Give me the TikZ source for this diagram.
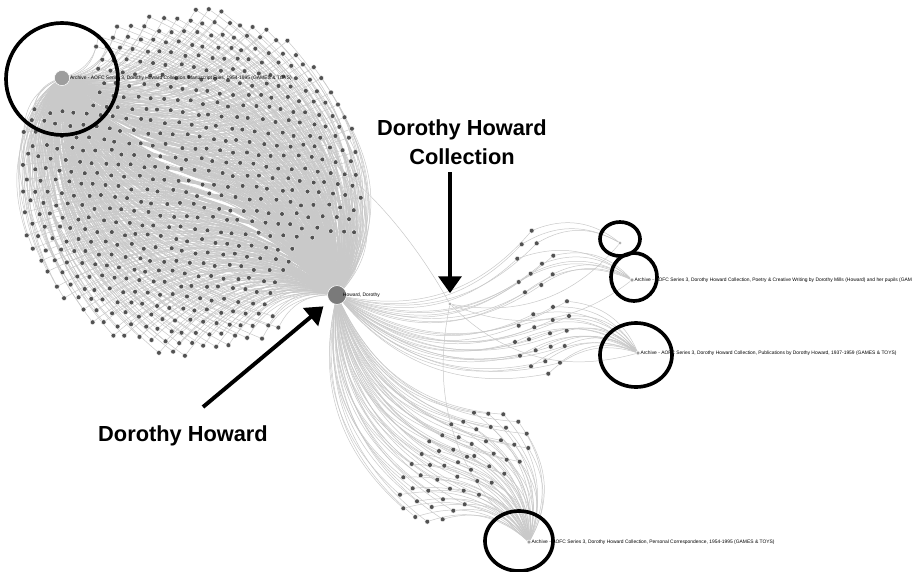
\documentclass[tikz,border=0pt]{standalone}
\usepackage{fontspec}
\setmainfont{Liberation Sans}
\usetikzlibrary{arrows.meta}
\pgfdeclarelayer{bg}
\pgfsetlayers{bg,main}

\tikzset{
  doc/.style={circle, fill=black!68, draw=white, line width=0.25pt, inner sep=0pt, minimum size=0.12cm},
  hub/.style={circle, fill=black!38, draw=white, line width=0.4pt, inner sep=0pt, minimum size=0.1cm},
  link/.style={draw=black!21, line width=0.35pt, bend left=30},
  ring/.style={draw=black, line width=2.6pt},
  callout/.style={draw=black, line width=2.8pt, -{Triangle[width=0.57cm,length=0.42cm]}},
  tiny/.style={font=\fontsize{3.5}{4}\selectfont, inner sep=0pt, anchor=west},
  big/.style={font=\fontsize{15.5}{20.6}\selectfont\bfseries, align=center},
}

\newcommand\rightdocs{531.7/230.7/toy, 521.7/244.3/toy, 536.7/243.3/toy,
  553.3/255.7/poe, 517.3/258.7/poe, 542/263.7/poe, 530.7/273.7/poe, 552.7/274.3/poe,
  518.7/282/poe, 541.3/285/poe, 525/292.3/poe,
  567/301.3/pub, 553/307/pub, 569/316/pub, 533.3/314.3/pub, 552.7/320/pub, 518.7/325.7/pub,
  534.3/327.3/pub, 566.7/330.7/pub, 550/333.3/pub, 529/339.3/pub, 515/342/pub, 550.7/346.7/pub,
  564.7/346/pub, 535.7/350.3/pub, 520/355.7/pub, 545.3/361.3/pub, 560/362.7/pub, 531/366.3/pub,
  548.3/373.7/pub}
\newcommand\lowdocs{474/412.7, 488.3/413.7, 503.3/414.3, 518.3/421.7, 463.3/421.7,
  451.3/424.3, 476.3/429.3, 490.7/427, 506/427.7, 526.7/433.7, 442.3/435.3, 458.7/437.3,
  471.7/444, 486/441.3, 501/440.3, 514.3/444.7, 528.3/448, 429.3/441.3, 439/451, 453.3/449.7,
  421.7/454, 467/456.7, 474.3/456, 493.7/453.7, 506.7/459.7, 519.7/461.7, 411.7/464, 430/465,
  444.3/465.7, 458/462.3, 471/469.7, 489.3/466.3, 504.3/473.7, 491.7/482.7, 403.3/477.3,
  420.7/475.3, 437.3/479.7, 457.3/476.7, 477.3/481, 412.7/488.3, 428.3/490.7, 450/488.7,
  463.7/490.7, 479/494.7, 400/494.7, 417/501.3, 443/499.3, 464.7/504.3, 403.3/508.3,
  431.7/507, 453.3/510.7, 415.3/517, 427.3/521.7, 442.7/519.3}

\begin{document}
\begin{tikzpicture}[x=0.025cm, y=-0.025cm]
  \useasboundingbox (0,0) rectangle (917,572);

  \node[hub, minimum size=0.38cm] (man) at (62,78) {};
  \node[hub, minimum size=0.47cm, fill=black!52] (how) at (337,295) {};
  \node[hub, minimum size=0.09cm] (coll) at (450,304) {};
  \node[hub, minimum size=0.09cm] (toy) at (620,243) {};
  \node[hub] (poe) at (632,280) {};
  \node[hub] (pub) at (638,353) {};
  \node[hub] (cor) at (529,542) {};

  % manuscript files
  \foreach \i in {0,...,40}{
    \foreach \j in {0,...,32}{
      \pgfmathsetmacro\px{190+13*(\i-20)-5.5*(\j-16)}
      \pgfmathsetmacro\py{182+1.2*(\i-20)+11*(\j-16)}
      \pgfmathtruncatemacro\ok{(veclen(\px-190,\py-182)<173) && (veclen(\px-337,\py-295)>60) && (veclen(\px-62,\py-78)>34)}
      \ifnum\ok=1
        \node[doc] (m\i-\j) at ({\px+2*rand},{\py+2*rand}) {};
      \fi
    }
  }
  \foreach \x/\y/\h [count=\k] in \rightdocs{
    \node[doc] (r\k) at (\x,\y) {};
  }
  \foreach \x/\y [count=\k] in \lowdocs{
    \node[doc] (c\k) at (\x,\y) {};
  }

  \begin{pgfonlayer}{bg}
    \fill[white] (0,0) rectangle (917,572);
    \draw[link] (man) to (coll);
    \foreach \h in {toy,poe,pub,cor}{
      \draw[link] (\h) to (coll);
    }
    \foreach \i in {0,...,40}{
      \foreach \j in {0,...,32}{
        \pgfmathsetmacro\px{190+13*(\i-20)-5.5*(\j-16)}
        \pgfmathsetmacro\py{182+1.2*(\i-20)+11*(\j-16)}
        \pgfmathtruncatemacro\ok{(veclen(\px-190,\py-182)<173) && (veclen(\px-337,\py-295)>60) && (veclen(\px-62,\py-78)>34)}
        \ifnum\ok=1
          \draw[link] (m\i-\j) to (how);
          \draw[link] (m\i-\j) to (man);
        \fi
      }
    }
    \foreach \x/\y/\h [count=\k] in \rightdocs{
      \draw[link] (r\k) to (how);
      \draw[link] (r\k) to (\h);
    }
    \foreach \x/\y [count=\k] in \lowdocs{
      \draw[link] (c\k) to (how);
      \draw[link] (c\k) to (cor);
    }
  \end{pgfonlayer}

  \node[tiny] (manlbl) at (man.east) {Archive - AOFC Series 3, Dorothy Howard Collection, Manuscript Files, 1954-1995 (GAMES \& TOYS)};
  \node[tiny] (howlbl) at ([xshift=-0.1cm]how.east) {Howard, Dorothy};
  \node[tiny] (poelbl) at (poe.east) {Archive - AOFC Series 3, Dorothy Howard Collection, Poetry \& Creative Writing by Dorothy Mills (Howard) and her pupils (GAM};
  \node[tiny] (publbl) at (pub.east) {Archive - AOFC Series 3, Dorothy Howard Collection, Publications by Dorothy Howard, 1937-1959 (GAMES \& TOYS)};
  \node[tiny] (corlbl) at (cor.east) {Archive - AOFC Series 3, Dorothy Howard Collection, Personal Correspondence, 1954-1995 (GAMES \& TOYS)};

  \draw[ring] (62,79) circle [radius=56];
  \draw[ring] (620,239) ellipse [x radius=20, y radius=17];
  \draw[ring] (634,277) ellipse [x radius=23, y radius=24];
  \draw[ring] (636,355) ellipse [x radius=36, y radius=32];
  \draw[ring] (519,541) ellipse [x radius=34, y radius=30];

  \node[big] (colltxt) at (462,142) {Dorothy Howard\\Collection};
  \node[big] (howtxt) at (183,436) {Dorothy Howard};

  \coordinate (ctop) at (450,172);
  \coordinate (htail) at (203,407);
  \draw[callout, shorten >=0.22cm] (ctop) -- (coll);
  \draw[callout, shorten >=0.2cm] (htail) -- (how);
\end{tikzpicture}
\end{document}
